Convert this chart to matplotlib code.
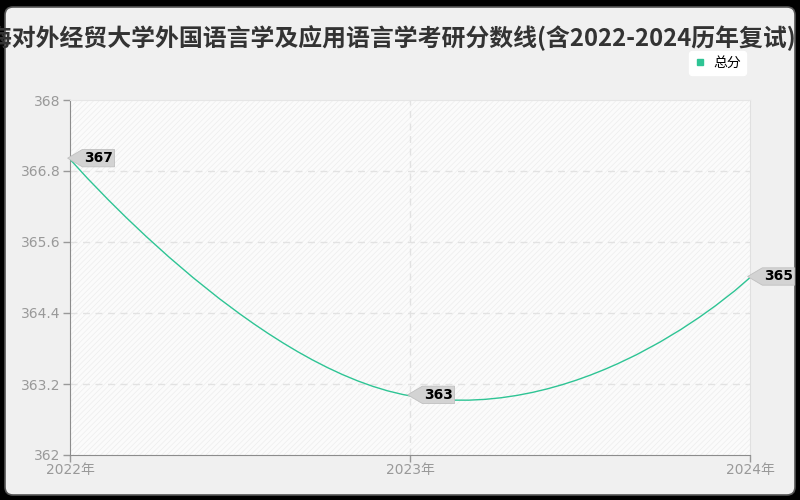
import numpy as np
import matplotlib
matplotlib.use('Agg')
import matplotlib.pyplot as plt
from matplotlib.path import Path
from matplotlib.patches import PathPatch, FancyBboxPatch, Rectangle
from matplotlib.lines import Line2D

plt.rcParams['font.family'] = ['DejaVu Sans', 'Noto Sans CJK SC']
plt.rcParams['hatch.linewidth'] = 0.5
plt.rcParams['hatch.color'] = '#ededed'

# data
title = '上海对外经贸大学外国语言学及应用语言学考研分数线(含2022-2024历年复试)'
years = ['2022年', '2023年', '2024年']
scores = [367, 363, 365]
series_name = '总分'
yticks = [362, 363.2, 364.4, 365.6, 366.8, 368]

line_color = '#2ec494'

fig = plt.figure(figsize=(8, 5), dpi=100)
fig.patch.set_facecolor('black')
card = FancyBboxPatch((5 / 800, 5 / 500), 790 / 800, 488 / 500,
                      boxstyle='round,pad=0,rounding_size=0.01',
                      mutation_aspect=1.6, transform=fig.transFigure,
                      fc='#f0f0f0', ec='#555555', lw=1.2, zorder=-10)
fig.patches.append(card)

ax = fig.add_axes([70 / 800, 45 / 500, 680 / 800, 355 / 500])
ax.set_facecolor('#fbfbfb')
ax.add_patch(Rectangle((0, 0), 1, 1, transform=ax.transAxes, fc='none',
                       hatch='//////', lw=0, zorder=0))

x = np.arange(len(scores))
ax.set_xlim(0, len(scores) - 1)
ax.set_ylim(yticks[0], yticks[-1])


# smooth line the way echarts draws it (control points in pixel space)
def smooth_path(xs, ys, sx, sy, smooth=0.5):
    pts = np.column_stack([np.asarray(xs, float) * sx, np.asarray(ys, float) * sy])
    n = len(pts)
    cin = [p.copy() for p in pts]
    cout = [p.copy() for p in pts]
    for i in range(1, n - 1):
        v = pts[i + 1] - pts[i - 1]
        d0 = np.hypot(*(pts[i] - pts[i - 1]))
        d1 = np.hypot(*(pts[i + 1] - pts[i]))
        r = d1 / (d0 + d1)
        cin[i] = pts[i] - v * smooth * r
        cout[i] = pts[i] + v * smooth * (1 - r)
    verts = [pts[0]]
    codes = [Path.MOVETO]
    for i in range(n - 1):
        verts += [cout[i], cin[i + 1], pts[i + 1]]
        codes += [Path.CURVE4] * 3
    verts = np.array(verts) / np.array([sx, sy])
    return Path(verts, codes)


# tag shaped label box, pointed on the left
def tag_box(x0, y0, width, height, mutation_size):
    pad = 0.12 * mutation_size
    x0, y0 = x0 - pad, y0 - pad
    x1, y1 = x0 + width + 2 * pad, y0 + height + 2 * pad
    tip = x0 - (y1 - y0) * 0.85
    ym = (y0 + y1) / 2
    return Path([(tip, ym), (x0, y0), (x1, y0), (x1, y1), (x0, y1), (tip, ym)],
                closed=True)


sx = 680 / (len(scores) - 1)
sy = 355 / (yticks[-1] - yticks[0])
ax.add_patch(PathPatch(smooth_path(x, scores, sx, sy), fc='none',
                       ec=line_color, lw=1.0, zorder=3))

for i, v in zip(x, scores):
    ax.annotate(str(v), xy=(i, v), xytext=(14, 1), textcoords='offset pixels',
                ha='left', va='center', fontsize=10, fontweight='bold',
                color='black', zorder=5, annotation_clip=False,
                bbox=dict(boxstyle=tag_box, fc='#d3d3d3',
                          ec='#c0c0c0', lw=0.6))

ax.set_xticks(x)
ax.set_xticklabels(years)
ax.set_yticks(yticks)
ax.set_yticklabels([f'{t:g}' for t in yticks])
ax.tick_params(colors='#999999', labelcolor='#999999', labelsize=10,
               length=5, width=1, pad=2)
ax.tick_params(axis='x', pad=1)

for t in yticks[1:-1]:
    ax.axhline(t, color='#e2e2e2', lw=1, ls=(0, (5, 4)), zorder=1)
for i in x[1:-1]:
    ax.axvline(i, color='#e2e2e2', lw=1, ls=(0, (5, 4)), zorder=1)

ax.spines['left'].set_color('#8c8c8c')
ax.spines['bottom'].set_color('#8c8c8c')
ax.spines['top'].set_color('#e6e6e6')
ax.spines['right'].set_color('#e0e0e0')

fig.text(0.476, 1 - 38 / 500, title, ha='center', va='center', fontsize=17.2,
         fontweight='bold', color='#333333',
         family=['Noto Sans CJK SC', 'DejaVu Sans'])

handle = Line2D([], [], color=line_color, marker='s', ls='none', markersize=5)
leg = fig.legend([handle], [series_name], loc='upper right',
                 bbox_to_anchor=(753 / 800, 1 - 44 / 500), frameon=True,
                 fancybox=True, framealpha=1, edgecolor='white',
                 prop={'family': 'Noto Sans CJK SC', 'size': 10},
                 handlelength=0.8, handletextpad=0.6, borderpad=0.35)
leg.get_frame().set_facecolor('white')

fig.savefig('out.png', dpi=100, facecolor=fig.get_facecolor())
